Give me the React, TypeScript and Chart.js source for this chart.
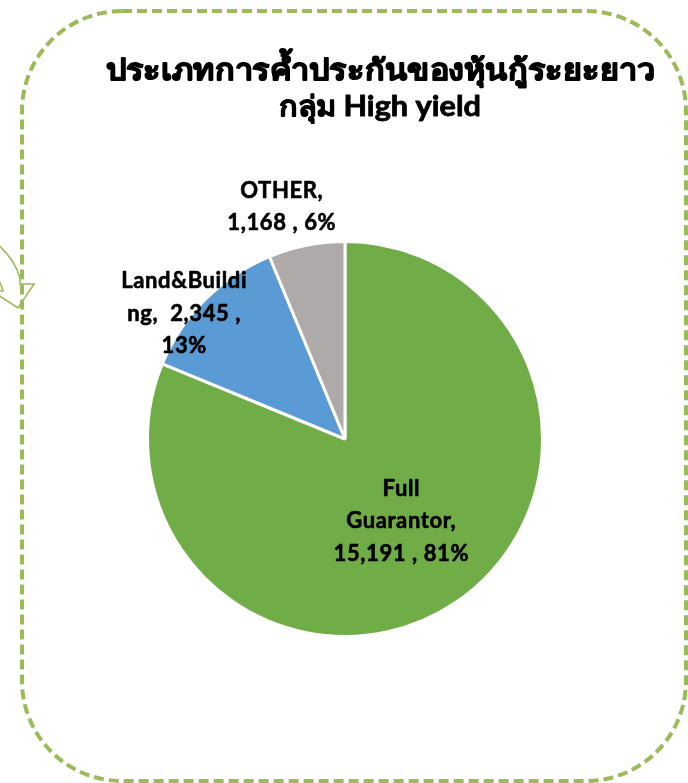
import React, { useEffect, useRef } from "react";
import { Chart, registerables } from "chart.js";

Chart.register(...registerables);

// ---- data ----
const categories = ["Full Guarantor", "Land&Building", "OTHER"];
const values = [15191, 2345, 1168];
const sliceColors = ["#70AD47", "#5B9BD5", "#AEAAAA"];
// data label text, wrapped as in the original
const labelLines = [
  ["Full", "Guarantor,", "15,191 , 81%"],
  ["Land&Buildi", "ng,  2,345 ,", "13%"],
  ["OTHER,", "1,168 , 6%"],
];
const titleLines = ["ประเภทการค้ำประกันของหุ้นกู้ระยะยาว", "กลุ่ม High yield"];

// label block centres, in units of the pie radius from the pie centre
const labelOffsets = [
  [0.283, 0.414],
  [-0.808, -0.631],
  [-0.318, -1.167],
];

const W = 688;
const H = 783;

function boldText(ctx: CanvasRenderingContext2D, text: string, x: number, y: number, targetW: number | null, stroke: number) {
  const w = ctx.measureText(text).width;
  const sx = targetW ? targetW / w : 1;
  ctx.save();
  ctx.translate(x, y);
  ctx.scale(sx, 1);
  ctx.fillText(text, 0, 0);
  if (stroke > 0) {
    ctx.lineWidth = stroke;
    ctx.strokeStyle = ctx.fillStyle as string;
    ctx.lineJoin = "round";
    ctx.strokeText(text, 0, 0);
  }
  ctx.restore();
}

const decorPlugin = {
  id: "decor",
  beforeDraw(chart: any) {
    const ctx = chart.ctx;
    ctx.save();
    // curved arrow (partially visible at the left edge)
    ctx.strokeStyle = "#9BBB59";
    ctx.lineWidth = 1.6;
    ctx.lineJoin = "miter";
    ctx.beginPath();
    ctx.moveTo(-30, 226);
    ctx.quadraticCurveTo(12, 248, 20, 278);
    ctx.lineTo(20, 284);
    ctx.lineTo(34, 284);
    ctx.lineTo(18, 308);
    ctx.lineTo(-8, 291);
    ctx.lineTo(3, 291);
    ctx.quadraticCurveTo(-2, 270, -30, 252);
    ctx.stroke();

    // dashed rounded frame
    ctx.strokeStyle = "#9BBB59";
    ctx.lineWidth = 4;
    ctx.setLineDash([10, 5]);
    ctx.beginPath();
    (ctx as any).roundRect(22, 11, 664, 770, 100);
    ctx.stroke();
    ctx.restore();
  },
  afterDraw(chart: any) {
    const ctx = chart.ctx;
    ctx.save();
    ctx.fillStyle = "#000000";
    ctx.textAlign = "center";
    ctx.textBaseline = "alphabetic";
    ctx.font = "bold 29px 'Noto Sans', Lato, sans-serif";
    boldText(ctx, titleLines[0], 380, 80, 549, 1.2);
    ctx.font = "bold 28px Lato, 'Noto Sans', sans-serif";
    boldText(ctx, titleLines[1], 380, 116, 202, 0.8);

    const meta = chart.getDatasetMeta(0);
    ctx.font = "bold 22px Lato, 'Noto Sans', sans-serif";
    (ctx as any).letterSpacing = "0.6px";
    ctx.textBaseline = "middle";
    meta.data.forEach((arc: any, i: number) => {
      const p = arc.getProps(["x", "y", "outerRadius"], true);
      const r = p.outerRadius + 1.5;
      const cx = p.x + labelOffsets[i][0] * r;
      const cy = p.y + labelOffsets[i][1] * r;
      const lines = labelLines[i];
      const lh = 32.5;
      const y0 = cy - ((lines.length - 1) * lh) / 2;
      lines.forEach((t, k) => boldText(ctx, t, cx, y0 + k * lh, null, 0.6));
    });
    ctx.restore();
  },
};

export default function App() {
  const ref = useRef<HTMLCanvasElement | null>(null);
  useEffect(() => {
    document.body.style.margin = "0";
    const canvas = ref.current!;
    const chart = new Chart(canvas, {
      type: "pie",
      data: {
        labels: categories,
        datasets: [
          {
            data: values,
            backgroundColor: sliceColors,
            borderColor: "#FFFFFF",
            borderWidth: 3,
          },
        ],
      },
      options: {
        responsive: false,
        animation: false,
        layout: { padding: { left: 146, right: 144, top: 240, bottom: 145 } },
        plugins: {
          legend: { display: false },
          title: { display: false },
          tooltip: { enabled: false },
        },
      },
      plugins: [decorPlugin],
    });
    return () => chart.destroy();
  }, []);
  return (
    <div style={{ width: W, height: H, background: "#fff" }}>
      <canvas ref={ref} width={W} height={H} style={{ display: "block" }} />
    </div>
  );
}
